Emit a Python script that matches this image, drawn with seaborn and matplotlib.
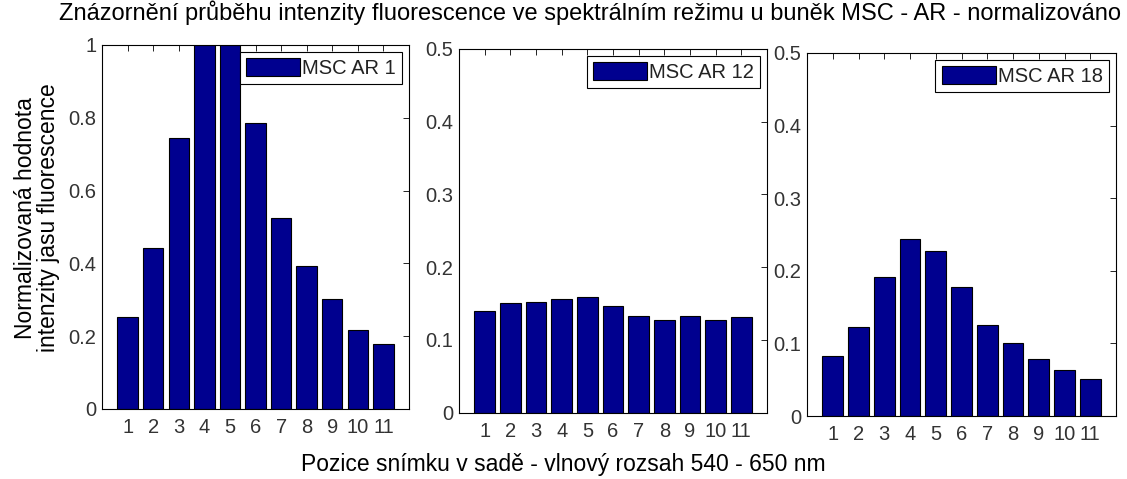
import matplotlib
matplotlib.use("Agg")
import matplotlib.pyplot as plt
import seaborn as sns
import pandas as pd

sns.set_style("white")
plt.rcParams["font.family"] = ["Liberation Sans", "DejaVu Sans"]

positions = list(range(1, 12))
series_names = ["MSC AR 1", "MSC AR 12", "MSC AR 18"]
msc_ar_1 = [0.252, 0.441, 0.744, 1.0, 1.0, 0.785, 0.525, 0.393, 0.303, 0.216, 0.179]
msc_ar_12 = [0.140, 0.151, 0.152, 0.156, 0.159, 0.146, 0.133, 0.127, 0.133, 0.127, 0.132]
msc_ar_18 = [0.082, 0.122, 0.192, 0.244, 0.227, 0.178, 0.125, 0.100, 0.079, 0.063, 0.051]
y_limits = [1.0, 0.5, 0.5]
y_ticks = [[0, 0.2, 0.4, 0.6, 0.8, 1.0],
           [0, 0.1, 0.2, 0.3, 0.4, 0.5],
           [0, 0.1, 0.2, 0.3, 0.4, 0.5]]
y_tick_labels = [["0", "0.2", "0.4", "0.6", "0.8", "1"],
                 ["0", "0.1", "0.2", "0.3", "0.4", "0.5"],
                 ["0", "0.1", "0.2", "0.3", "0.4", "0.5"]]

title = "Znázornění průběhu intenzity fluorescence ve spektrálním režimu u buněk MSC - AR - normalizováno"
x_label = "Pozice snímku v sadě - vlnový rozsah 540 - 650 nm"
y_label = "Normalizovaná hodnota\nintenzity jasu fluorescence"

W, H = 1127, 479
fig = plt.figure(figsize=(W / 100, H / 100), dpi=100)

# axes boxes in pixels: left, top, right, bottom
boxes = [(102, 45, 409, 409), (459, 49, 767, 412.5), (807, 53, 1116, 416)]
bar_color = "#00008F"
tick_color = "#333333"

for i, (vals, name) in enumerate(zip([msc_ar_1, msc_ar_12, msc_ar_18], series_names)):
    l, t, r, b = boxes[i]
    ax = fig.add_axes([l / W, 1 - b / H, (r - l) / W, (b - t) / H])
    df = pd.DataFrame({"pos": positions, "val": vals})
    sns.barplot(data=df, x="pos", y="val", native_scale=True, width=0.8,
                color=bar_color, saturation=1, edgecolor="black", linewidth=0.8,
                label=name, ax=ax)
    ax.set_xlim(0, 12)
    ax.set_ylim(0, y_limits[i])
    ax.set_xticks(positions)
    ax.set_xticklabels([str(p) for p in positions])
    ax.set_yticks(y_ticks[i])
    ax.set_yticklabels(y_tick_labels[i])
    ax.set_xlabel("")
    ax.set_ylabel("")
    ax.tick_params(direction="in", length=4, width=0.6, top=True, right=True,
                   labelsize=14.5, labelcolor=tick_color, color="black")
    ax.tick_params(axis="x", pad=6.5)
    ax.tick_params(axis="y", pad=4)
    for s in ax.spines.values():
        s.set_color("black")
        s.set_linewidth(0.8)
    leg = ax.legend(loc="upper right", fancybox=False, framealpha=1,
                    edgecolor="black", fontsize=14.5, handlelength=2.7,
                    handleheight=1.0, handletextpad=0.1, borderpad=0.3,
                    borderaxespad=0.35)
    leg.get_frame().set_linewidth(0.8)
    for txt in leg.get_texts():
        txt.set_color("#222222")

fig.text(590 / W, 1 - 13 / H, title, ha="center", va="center", fontsize=17,
         color="black")
fig.text(563 / W, 1 - 465 / H, x_label, ha="center", va="center", fontsize=16.5,
         color="black")
fig.text(37 / W, 1 - 218 / H, y_label, ha="center", va="center", fontsize=16.5,
         rotation=90, linespacing=1.0, color="black")

fig.savefig("out.png", dpi=100, facecolor="white")
